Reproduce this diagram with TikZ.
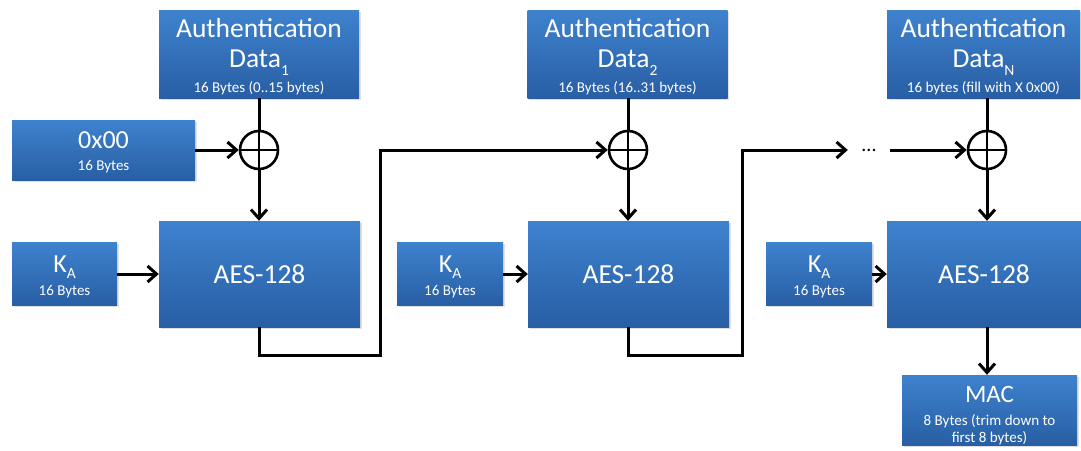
\documentclass[tikz,border=0pt]{standalone}
\usepackage{fontspec}
\setmainfont{Carlito}
\usetikzlibrary{arrows.meta,shadows}
\definecolor{btop}{RGB}{62,130,206}
\definecolor{bbot}{RGB}{40,94,164}
\newcommand{\bigt}{\fontsize{27.5}{32}\selectfont}
\newcommand{\aest}{\fontsize{27.5}{32}\selectfont}
\newcommand{\smallt}{\fontsize{15}{17}\selectfont}
\newcommand{\subt}[2]{\raisebox{-#2}{\fontsize{15.5}{17}\selectfont #1}}
\tikzset{
  blk/.style={rectangle, top color=btop, bottom color=bbot, draw=none,
    inner sep=0pt, text=white, align=center,
    drop shadow={shadow xshift=1.5pt, shadow yshift=-1.5pt, opacity=0.25}},
  txt/.style={anchor=base, inner sep=0pt, text=white},
  xor/.style={circle, draw, line width=2.6pt, minimum size=38pt, inner sep=0pt},
  wire/.style={line width=3pt},
  arr/.style={line width=3pt, -{Straight Barb[length=9pt,width=16pt,line width=3pt]}},
}
\begin{document}
\begin{tikzpicture}[x=1pt,y=-1pt]
\useasboundingbox (0,0) rectangle (1081,450);

% input blocks
\node[blk, minimum width=200pt, minimum height=88pt] (ad1) at (259,54) {};
\node[blk, minimum width=200pt, minimum height=88pt] (ad2) at (627.5,54) {};
\node[blk, minimum width=193pt, minimum height=88pt] (adn) at (983.5,54) {};
\node[blk, minimum width=183pt, minimum height=60pt] (iv) at (103.5,150) {};

% key blocks
\node[blk, minimum width=105pt, minimum height=63pt] (k1) at (64.5,274) {};
\node[blk, minimum width=106pt, minimum height=63pt] (k2) at (450,274) {};
\node[blk, minimum width=106pt, minimum height=63pt] (k3) at (819,274) {};

% cipher blocks
\node[blk, minimum width=201pt, minimum height=106pt, font=\aest] (aes1) at (259.5,274) {AES-128};
\node[blk, minimum width=201pt, minimum height=106pt, font=\aest] (aes2) at (628.5,274) {AES-128};
\node[blk, minimum width=194pt, minimum height=106pt, font=\aest] (aes3) at (984,274) {AES-128};

% output block
\node[blk, minimum width=175pt, minimum height=70pt] (mac) at (989.5,410) {};

% block captions
\node[txt, font=\bigt] (ad1a) at (259,37) {Authentication};
\node[txt, font=\bigt] (ad1b) at (259,67) {Data\subt{1}{8pt}};
\node[txt, font=\smallt] (ad1c) at (259,92) {16 Bytes (0..15 bytes)};
\node[txt, font=\bigt] (ad2a) at (627.5,37) {Authentication};
\node[txt, font=\bigt] (ad2b) at (627.5,67) {Data\subt{2}{8pt}};
\node[txt, font=\smallt] (ad2c) at (627.5,92) {16 Bytes (16..31 bytes)};
\node[txt, font=\bigt] (adna) at (983.5,37) {Authentication};
\node[txt, font=\bigt] (adnb) at (983.5,67) {Data\subt{N}{8pt}};
\node[txt, font=\smallt] (adnc) at (983.5,92) {16 bytes (fill with X 0x00)};
\node[txt, font=\fontsize{26}{30}\selectfont] (iva) at (103.5,148) {0x00};
\node[txt, font=\smallt] (ivb) at (103.5,170) {16 Bytes};
\foreach \k in {k1,k2,k3}{
  \node[txt, font=\fontsize{26}{30}\selectfont] (\k a) at ([yshift=2pt]\k.center) {K\subt{A}{6pt}};
  \node[txt, font=\smallt] (\k b) at ([yshift=-21pt]\k.center) {16 Bytes};
}
\node[txt, font=\fontsize{25}{29}\selectfont] (maca) at (989.5,402) {MAC};
\node[txt, font=\smallt] (macb) at (989.5,425) {8 Bytes (trim down to};
\node[txt, font=\smallt] (macc) at (989.5,442) {first 8 bytes)};

% XOR gates
\node[xor] (x1) at (259,150) {};
\node[xor] (x2) at (628,150) {};
\node[xor] (x3) at (987,150) {};
\foreach \x in {x1,x2,x3}{
  \draw[line width=2.6pt] (\x.north) -- (\x.south) (\x.west) -- (\x.east);
}

% continuation marker
\node[inner sep=0pt, minimum width=42pt, font=\fontsize{20}{20}\selectfont] (dots) at (869,150) {...};

% routing corners
\coordinate (j1) at (380,355);
\coordinate (j2) at (742,355);

% connectors
\draw[wire] (x1 |- ad1.south) -- (x1.north);
\draw[wire] (x2 |- ad2.south) -- (x2.north);
\draw[wire] (x3 |- adn.south) -- (x3.north);
\draw[arr] (iv.east) -- (x1.west);
\draw[arr] (x1.south) -- (x1 |- aes1.north);
\draw[arr] (x2.south) -- (x2 |- aes2.north);
\draw[arr] (x3.south) -- (x3 |- aes3.north);
\draw[arr] (k1.east) -- (aes1.west);
\draw[arr] (k2.east) -- (aes2.west);
\draw[arr] (k3.east) -- (aes3.west);
\draw[arr] (x1 |- aes1.south) |- (j1) |- (x2.west);
\draw[arr] (x2 |- aes2.south) |- (j2) |- (dots.west |- x2.west);
\draw[arr] (dots.east |- x3.west) -- (x3.west);
\draw[arr] (x3 |- aes3.south) -- (x3 |- mac.north);
\end{tikzpicture}
\end{document}
